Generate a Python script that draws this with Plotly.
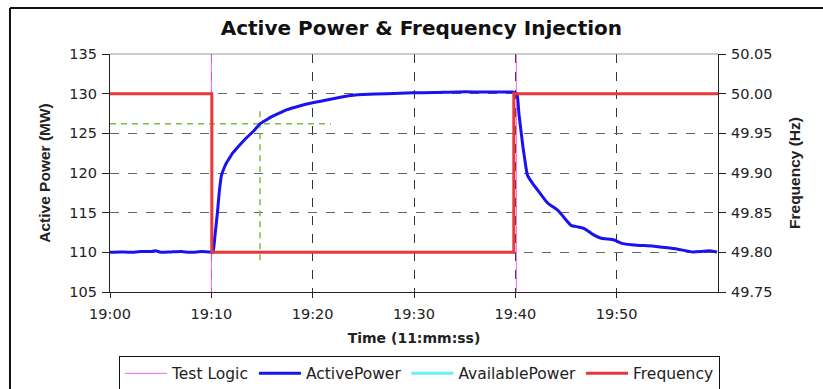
import plotly.graph_objects as go

# Time axis: minutes after 19:00
tick_minutes = [0, 10, 20, 30, 40, 50]
tick_labels = ["19:00", "19:10", "19:20", "19:30", "19:40", "19:50"]

# Active power (MW)
power_t = [0, 1, 2, 3, 4, 4.5, 5, 6, 7, 8, 9, 9.8, 10.15, 10.35, 10.6, 10.8, 11.0,
           11.25, 11.5, 11.8, 12.1, 12.6, 13.1, 13.6, 14.1, 14.8, 15.5, 16.1, 16.8,
           17.4, 18.7, 20.0, 21.0, 22.0, 23.0, 24.0, 25.0, 27.3, 29.9, 32.0, 35.1,
           37.0, 39.7, 40.15, 40.35, 40.55, 40.75, 40.9, 41.2, 41.7, 42.2, 42.7, 43.2,
           44.2, 44.8, 45.5, 46.2, 46.8, 47.6, 48.4, 49.75, 50.6, 52.0, 53.5, 54.8,
           56.0, 57.5, 58.3, 59.1, 59.9]
power_mw = [110.0, 110.05, 110.0, 110.1, 110.1, 110.2, 110.0, 110.05, 110.1, 110.0,
            110.1, 110.05, 110.0, 112.0, 115.0, 117.8, 119.7, 120.6, 121.3, 121.9,
            122.5, 123.25, 123.95, 124.6, 125.2, 126.2, 126.75, 127.2, 127.6, 127.95,
            128.45, 128.85, 129.1, 129.35, 129.6, 129.8, 129.9, 130.0, 130.1, 130.15,
            130.25, 130.2, 130.2, 130.0, 127.5, 125.4, 123.3, 122.0, 119.7, 118.7,
            117.85, 117.0, 116.2, 115.3, 114.4, 113.4, 113.2, 113.0, 112.3, 111.8,
            111.55, 111.1, 110.9, 110.8, 110.6, 110.4, 110.05, 110.1, 110.2, 110.05]

# Injected frequency (Hz)
freq_t = [0, 10.05, 10.05, 39.85, 39.85, 60]
freq_hz = [50.00, 50.00, 49.80, 49.80, 50.00, 50.00]

# Test logic switching instants
logic_t = [10, 10, None, 40.1, 40.1]
logic_y = [105, 135, None, 105, 135]

# Reference markers for the response (settling level and time)
ref_h_t = [0, 21.8]
ref_h_mw = [126.2, 126.2]
ref_v_t = [14.8, 14.8]
ref_v_mw = [109.0, 128.3]

font_main = "DejaVu Sans, Liberation Sans, Arial, sans-serif"
font_narrow = "Liberation Sans Narrow, Liberation Sans, Arial, sans-serif"

fig = go.Figure()

fig.add_trace(go.Scatter(x=ref_h_t, y=ref_h_mw, mode="lines", showlegend=False,
                         line=dict(color="#7dbf3c", width=1.5, dash="6px,5px"), hoverinfo="skip"))
fig.add_trace(go.Scatter(x=ref_v_t, y=ref_v_mw, mode="lines", showlegend=False,
                         line=dict(color="#7dbf3c", width=1.5, dash="6px,5px"), hoverinfo="skip"))

fig.add_trace(go.Scatter(x=logic_t, y=logic_y, mode="lines", name="Test Logic",
                         line=dict(color="#ee66ee", width=1)))
fig.add_trace(go.Scatter(x=power_t, y=power_mw, mode="lines", name="ActivePower",
                         line=dict(color="#1a12f0", width=3, shape="spline", smoothing=0.5)))
fig.add_trace(go.Scatter(x=[None], y=[None], mode="lines", name="AvailablePower",
                         line=dict(color="#66f0f8", width=3)))
fig.add_trace(go.Scatter(x=freq_t, y=freq_hz, mode="lines", name="Frequency",
                         line=dict(color="#e8383a", width=3), yaxis="y2"))

fig.update_layout(
    width=823, height=389,
    margin=dict(l=110, r=105, t=54, b=97, autoexpand=False),
    paper_bgcolor="white", plot_bgcolor="white",
    title=dict(text="<b>Active Power & Frequency Injection</b>", x=0.512, xanchor="center",
               y=0.928, yanchor="middle", font=dict(family=font_main, size=20, color="#111")),
    font=dict(family=font_main, size=14.5, color="#222"),
    xaxis=dict(range=[0, 60], tickmode="array", tickvals=tick_minutes, ticktext=tick_labels,
               showgrid=True, gridcolor="#333", griddash="dash", gridwidth=1,
               showline=True, linecolor="#222", linewidth=1.2, ticks="outside", ticklen=5,
               tickcolor="#222", zeroline=False, ticklabelstandoff=3,
               title=dict(text="<b>Time (11:mm:ss)</b>", font=dict(family=font_main, size=14), standoff=12)),
    yaxis=dict(range=[105, 135], dtick=5, showgrid=True, gridcolor="#666", griddash="dash",
               gridwidth=1, showline=True, linecolor="#222", linewidth=1.2, ticks="outside",
               ticklen=7, tickcolor="#222", zeroline=False, ticklabelstandoff=2,
               title=dict(text="<b>Active Power (MW)</b>", font=dict(family=font_narrow, size=15.5), standoff=14)),
    yaxis2=dict(range=[49.75, 50.05], dtick=0.05, tickformat=".2f", overlaying="y", side="right",
                showgrid=False, showline=True, linecolor="#222", linewidth=1.2, ticks="outside",
                ticklen=7, tickcolor="#222", zeroline=False, ticklabelstandoff=2,
                title=dict(text="<b>Frequency (Hz)</b>", font=dict(family=font_narrow, size=15.5), standoff=17)),
    legend=dict(orientation="h", x=0.509, xanchor="center", y=-0.268, yanchor="top",
                bordercolor="#111", borderwidth=1, bgcolor="white",
                font=dict(family=font_main, size=15.5, color="#222"),
                itemwidth=42, tracegroupgap=0),
    shapes=[
        # top border of the plot area
        dict(type="line", xref="paper", yref="paper", x0=0, x1=1, y0=1, y1=1,
             line=dict(color="#999", width=1)),
        # outer frame
        dict(type="line", xref="paper", yref="paper", x0=-0.1645, x1=-0.1645, y0=-0.6, y1=1.193,
             line=dict(color="#111", width=2)),
        dict(type="line", xref="paper", yref="paper", x0=-0.1645, x1=1.3, y0=1.193, y1=1.193,
             line=dict(color="#111", width=2)),
    ],
)

fig.write_html("out.html")
